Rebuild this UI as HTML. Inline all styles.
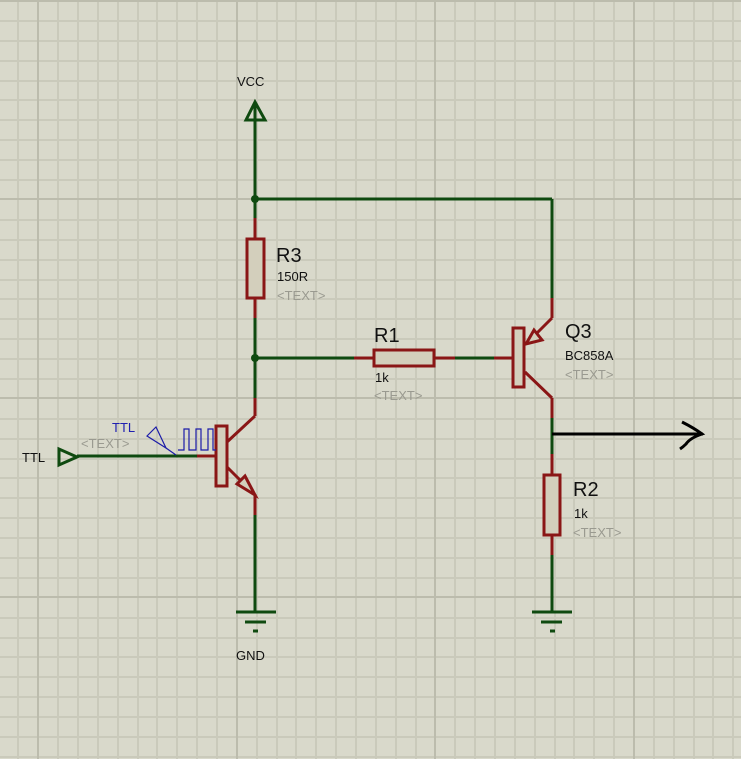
<!DOCTYPE html>
<html><head><meta charset="utf-8"><style>
html,body{margin:0;padding:0;background:#d9d9cb;}
svg{display:block;}
text{font-family:"Liberation Sans",sans-serif;}
</style></head><body>
<svg width="741" height="759" viewBox="0 0 741 759" xmlns="http://www.w3.org/2000/svg">
<rect width="741" height="759" fill="#d9d9cb"/>
<path stroke="#cacabb" stroke-width="2" fill="none" d="M18 0V759M58 0V759M78 0V759M98 0V759M118 0V759M138 0V759M157 0V759M177 0V759M197 0V759M217 0V759M257 0V759M277 0V759M296 0V759M316 0V759M336 0V759M356 0V759M376 0V759M396 0V759M416 0V759M455 0V759M475 0V759M495 0V759M515 0V759M535 0V759M555 0V759M574 0V759M594 0V759M614 0V759M654 0V759M674 0V759M694 0V759M713 0V759M733 0V759
M0 21H741M0 41H741M0 61H741M0 81H741M0 100H741M0 120H741M0 140H741M0 160H741M0 180H741M0 220H741M0 240H741M0 260H741M0 280H741M0 299H741M0 319H741M0 339H741M0 359H741M0 379H741M0 419H741M0 439H741M0 459H741M0 478H741M0 498H741M0 518H741M0 538H741M0 558H741M0 578H741M0 618H741M0 638H741M0 657H741M0 677H741M0 697H741M0 717H741M0 737H741M0 757H741"/>
<path stroke="#bcbcad" stroke-width="2" fill="none" d="M38 0V759M237 0V759M435 0V759M634 0V759M0 1H741M0 199H741M0 398H741M0 597H741"/>
<g stroke="#0f4a10" stroke-width="3" fill="none">
<line x1="255" y1="102" x2="255" y2="218"/>
<line x1="255" y1="199" x2="552" y2="199"/>
<line x1="552" y1="199" x2="552" y2="298"/>
<line x1="255" y1="318" x2="255" y2="398"/>
<line x1="255" y1="358" x2="354" y2="358"/>
<line x1="455" y1="358" x2="494" y2="358"/>
<line x1="255" y1="515" x2="255" y2="612"/>
<line x1="77" y1="456" x2="197" y2="456"/>
<line x1="552" y1="418" x2="552" y2="454"/>
<line x1="552" y1="555" x2="552" y2="612"/>
<polygon points="255,102 246,120 265,120" fill="none"/>
<polygon points="59,449 59,465 77,457" fill="none"/>
<line x1="236" y1="612" x2="276" y2="612"/><line x1="245" y1="622" x2="266" y2="622"/><line x1="253" y1="631" x2="258" y2="631"/>
<line x1="532" y1="612" x2="572" y2="612"/><line x1="541" y1="622" x2="562" y2="622"/><line x1="550" y1="631" x2="555" y2="631"/>
</g>
<circle cx="255" cy="199" r="4" fill="#0f4a10"/>
<circle cx="255" cy="358" r="4" fill="#0f4a10"/>
<g stroke="#8a1616" stroke-width="3" fill="none">
<line x1="255" y1="218" x2="255" y2="318"/>
<line x1="354" y1="358" x2="455" y2="358"/>
<line x1="552" y1="298" x2="552" y2="318"/>
<line x1="552" y1="318" x2="528" y2="342"/>
<line x1="494" y1="358" x2="514" y2="358"/>
<line x1="525" y1="372" x2="552" y2="398"/>
<line x1="552" y1="398" x2="552" y2="418"/>
<line x1="552" y1="454" x2="552" y2="555"/>
<line x1="197" y1="456" x2="216" y2="456"/>
<line x1="227" y1="442" x2="255" y2="416"/>
<line x1="255" y1="416" x2="255" y2="398"/>
<line x1="227" y1="467" x2="252" y2="492"/>
<line x1="255" y1="494" x2="255" y2="515"/>
<rect x="247" y="239" width="17" height="59" fill="#d3cfbc"/>
<rect x="374" y="350" width="60" height="16" fill="#d3cfbc"/>
<rect x="544" y="475" width="16" height="60" fill="#d3cfbc"/>
<rect x="513" y="328" width="11" height="59" fill="#d3cfbc"/>
<rect x="216" y="426" width="11" height="60" fill="#d3cfbc"/>
<polygon points="526,344 534,330 542,340" fill="#d3cfbc"/>
<polygon points="255,495 237,484 245,476" fill="#d3cfbc"/>
</g>
<g stroke="#000" stroke-width="3" fill="none">
<line x1="552" y1="434" x2="703" y2="434"/>
<path d="M682 422 Q694 428 702 434 Q690 438 686 444 Q683 447 680 449"/>
</g>
<g stroke="#1c1ca8" stroke-width="1.2" fill="none">
<polygon points="147,436 156,427 166,448"/>
<line x1="166" y1="448" x2="176" y2="455"/>
<path d="M178 450H184V429H189V450H196V429H201V450H208V429H213V450H216"/>
</g>
<g>
<text x="237" y="86" font-size="13" fill="#111">VCC</text>
<text x="236" y="660" font-size="13" fill="#111">GND</text>
<text x="22" y="462" font-size="13" fill="#111">TTL</text>
<text x="112" y="432" font-size="13" fill="#2020b0">TTL</text>
<text x="81" y="448" font-size="13" fill="#9a9a90">&lt;TEXT&gt;</text>
<text x="276" y="262" font-size="20" fill="#111">R3</text>
<text x="277" y="281" font-size="13" fill="#111">150R</text>
<text x="277" y="300" font-size="13" fill="#9a9a90">&lt;TEXT&gt;</text>
<text x="374" y="342" font-size="20" fill="#111">R1</text>
<text x="375" y="382" font-size="13" fill="#111">1k</text>
<text x="374" y="400" font-size="13" fill="#9a9a90">&lt;TEXT&gt;</text>
<text x="565" y="338" font-size="20" fill="#111">Q3</text>
<text x="565" y="360" font-size="13" fill="#111">BC858A</text>
<text x="565" y="379" font-size="13" fill="#9a9a90">&lt;TEXT&gt;</text>
<text x="573" y="496" font-size="20" fill="#111">R2</text>
<text x="574" y="518" font-size="13" fill="#111">1k</text>
<text x="573" y="537" font-size="13" fill="#9a9a90">&lt;TEXT&gt;</text>
</g>
</svg>
</body></html>
